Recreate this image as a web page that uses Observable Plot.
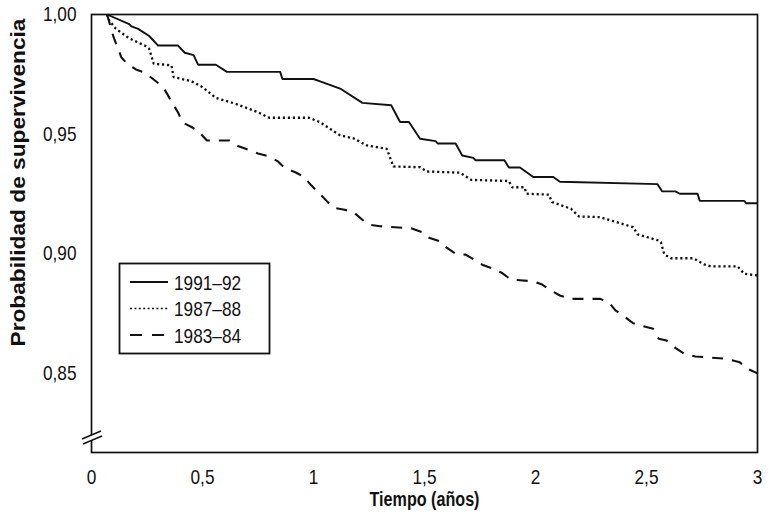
<!DOCTYPE html>
<html>
<head>
<meta charset="utf-8">
<script src="https://cdn.jsdelivr.net/npm/d3@7"></script>
<script src="https://cdn.jsdelivr.net/npm/@observablehq/plot@0.6"></script>
<style>
  html, body { margin: 0; padding: 0; background: #fff; }
  #chart svg { display: block; }
</style>
</head>
<body>
<div id="chart"></div>
<script>
// ---- Data ----
const periods = ["1991–92", "1987–88", "1983–84"];
const xTicks = [0, 0.5, 1, 1.5, 2, 2.5, 3];
const yTicks = [0.85, 0.90, 0.95, 1.00];
const xLabel = "Tiempo (años)";
const yLabel = "Probabilidad de supervivencia";

// [time (years), survival probability]
const s1991 = [
  [0.07,1.000],[0.17,0.996],[0.18,0.995],[0.21,0.994],[0.26,0.991],[0.30,0.987],
  [0.39,0.987],[0.42,0.984],[0.46,0.983],[0.48,0.979],[0.56,0.979],[0.61,0.976],
  [0.85,0.976],[0.86,0.973],[1.00,0.973],[1.03,0.972],[1.12,0.969],[1.22,0.963],
  [1.35,0.962],[1.39,0.955],[1.43,0.955],[1.48,0.948],[1.55,0.947],[1.56,0.946],
  [1.64,0.946],[1.67,0.941],[1.72,0.940],[1.73,0.939],[1.86,0.939],[1.88,0.936],
  [1.93,0.936],[1.99,0.932],[2.08,0.932],[2.11,0.930],[2.55,0.929],[2.57,0.926],
  [2.63,0.926],[2.65,0.925],[2.73,0.925],[2.74,0.922],[2.94,0.922],[2.95,0.921],
  [3.00,0.921]
];
const s1987 = [
  [0.07,1.000],[0.08,0.9975],[0.11,0.994],[0.17,0.990],[0.24,0.987],[0.26,0.9856],
  [0.28,0.9794],[0.36,0.9787],[0.37,0.9738],[0.45,0.9721],[0.50,0.9696],[0.56,0.9651],
  [0.65,0.9626],[0.75,0.9591],[0.80,0.9568],[0.98,0.9568],[1.03,0.9549],[1.12,0.9494],
  [1.18,0.9482],[1.24,0.9452],[1.33,0.9438],[1.36,0.9364],[1.48,0.9361],[1.51,0.9343],
  [1.66,0.9338],[1.71,0.9308],[1.88,0.9303],[1.895,0.9277],[1.95,0.9277],[1.96,0.9250],
  [2.06,0.9246],[2.075,0.9215],[2.16,0.9187],[2.195,0.9155],[2.29,0.9152],[2.44,0.9110],
  [2.46,0.9080],[2.555,0.9054],[2.565,0.9047],[2.58,0.8996],[2.61,0.8980],[2.71,0.8980],
  [2.76,0.8954],[2.79,0.8946],[2.91,0.8946],[2.94,0.8915],[3.00,0.8908]
];
const s1983 = [
  [0.07,1.000],[0.10,0.9904],[0.135,0.9820],[0.16,0.9795],[0.20,0.9770],[0.24,0.9757],
  [0.28,0.9728],[0.32,0.9699],[0.34,0.9669],[0.365,0.9628],[0.39,0.9590],[0.41,0.9548],
  [0.455,0.9527],[0.49,0.9502],[0.52,0.9473],[0.62,0.9473],[0.66,0.9450],[0.71,0.9433],
  [0.75,0.9418],[0.80,0.9406],[0.84,0.9385],[0.87,0.9358],[0.92,0.9339],[0.955,0.9322],
  [0.99,0.9285],[1.02,0.9257],[1.06,0.9219],[1.09,0.9191],[1.14,0.9183],[1.18,0.9173],
  [1.22,0.9141],[1.25,0.9120],[1.30,0.9114],[1.44,0.9105],[1.49,0.9089],[1.52,0.9066],
  [1.57,0.9051],[1.60,0.9024],[1.64,0.8999],[1.685,0.8995],[1.73,0.8971],[1.76,0.8953],
  [1.81,0.8936],[1.85,0.8918],[1.89,0.8890],[1.93,0.8888],[1.99,0.8883],[2.03,0.8870],
  [2.07,0.8845],[2.11,0.8824],[2.16,0.8810],[2.29,0.8810],[2.33,0.8796],[2.36,0.8762],
  [2.40,0.8736],[2.44,0.8708],[2.485,0.8696],[2.53,0.8685],[2.555,0.8643],[2.59,0.8636],
  [2.63,0.8605],[2.67,0.8580],[2.72,0.8569],[2.86,0.8559],[2.92,0.8545],[2.95,0.8520],
  [3.00,0.8498]
];

// ---- Styles ----
const FONT = '"Liberation Sans", Arial, sans-serif';
const INK = "#111";
const styles = [
  {strokeWidth: 1.9, strokeDasharray: null},
  {strokeWidth: 2.3, strokeDasharray: "2.2,2.8"},
  {strokeWidth: 2.1, strokeDasharray: "11,9"}
];
const seriesData = [s1991, s1987, s1983];
const toRows = (arr, p) => arr.map(([t, s]) => ({t, s, period: p}));
const commaFmt = (d, n) => d.toFixed(n).replace(".", ",");

const chart = Plot.plot({
  width: 770,
  height: 516,
  marginLeft: 91,
  marginRight: 13,
  marginTop: 14,
  marginBottom: 64,
  style: {fontFamily: FONT, fontSize: "21px", color: INK, background: "#fff"},
  x: {domain: [0, 3], ticks: xTicks, tickFormat: d => String(d).replace(".", ","), tickSize: 0, tickPadding: 17, label: null},
  y: {domain: [0.8167, 1], ticks: yTicks, tickFormat: d => commaFmt(d, 2), tickSize: 0, tickPadding: 15, label: null},
  marks: [
    ...seriesData.map((arr, i) => Plot.line(toRows(arr, periods[i]), {
      x: "t", y: "s", stroke: INK, strokeWidth: styles[i].strokeWidth,
      strokeDasharray: styles[i].strokeDasharray, strokeLinejoin: "miter", strokeLinecap: "butt"
    })),
    Plot.frame({stroke: INK, strokeWidth: 1.7}),
    Plot.text([xLabel], {frameAnchor: "bottom", dy: 53, fontWeight: "bold", fontSize: 20, fill: INK, className: "xlab"}),
    Plot.text([yLabel], {frameAnchor: "top-left", rotate: -90, textAnchor: "end", lineAnchor: "middle", dx: -73, dy: 4, fontWeight: "bold", fontSize: 21, fill: INK, className: "ylab"})
  ]
});

document.getElementById("chart").appendChild(chart);

// ---- Legend (inside the plot) and axis-break mark ----
const svg = d3.select(chart);
const lg = svg.append("g").attr("class", "legend").attr("font-family", FONT).attr("font-size", 21).attr("fill", INK).attr("text-anchor", "start");
lg.append("rect").attr("x", 119.5).attr("y", 263.5).attr("width", 150).attr("height", 90)
  .attr("fill", "#fff").attr("stroke", INK).attr("stroke-width", 1.8);
periods.forEach((p, i) => {
  const y = 282 + i * 26.5;
  lg.append("line").attr("x1", 130).attr("x2", 168).attr("y1", y).attr("y2", y)
    .attr("stroke", INK).attr("stroke-width", i === 1 ? 1.6 : styles[i].strokeWidth)
    .attr("stroke-dasharray", i === 2 ? "12,10" : (i === 1 ? "2,2.4" : null));
  lg.append("text").attr("x", 174).attr("y", y).attr("dy", "0.36em").text(p);
});
svg.append("rect").attr("x", 88).attr("y", 435).attr("width", 5).attr("height", 5).attr("fill", "#fff");
const br = svg.append("g").attr("stroke", INK).attr("stroke-width", 1.5);
br.append("line").attr("x1", 82).attr("y1", 439).attr("x2", 101).attr("y2", 431);
br.append("line").attr("x1", 83).attr("y1", 444).attr("x2", 102).attr("y2", 436);

// ---- Condensed lettering (the reference uses a condensed sans) ----
function condense(sel, k) {
  sel.each(function () {
    const w = this.getComputedTextLength();
    if (w > 0) d3.select(this).attr("textLength", w * k).attr("lengthAdjust", "spacingAndGlyphs");
  });
}
condense(svg.selectAll("g[aria-label='x-axis tick label'] text, g[aria-label='y-axis tick label'] text"), 0.82);
condense(svg.selectAll("g.legend text"), 0.82);
svg.selectAll(".xlab text").attr("textLength", 110).attr("lengthAdjust", "spacingAndGlyphs");
svg.selectAll(".ylab text").attr("textLength", 328).attr("lengthAdjust", "spacingAndGlyphs");
</script>
</body>
</html>
